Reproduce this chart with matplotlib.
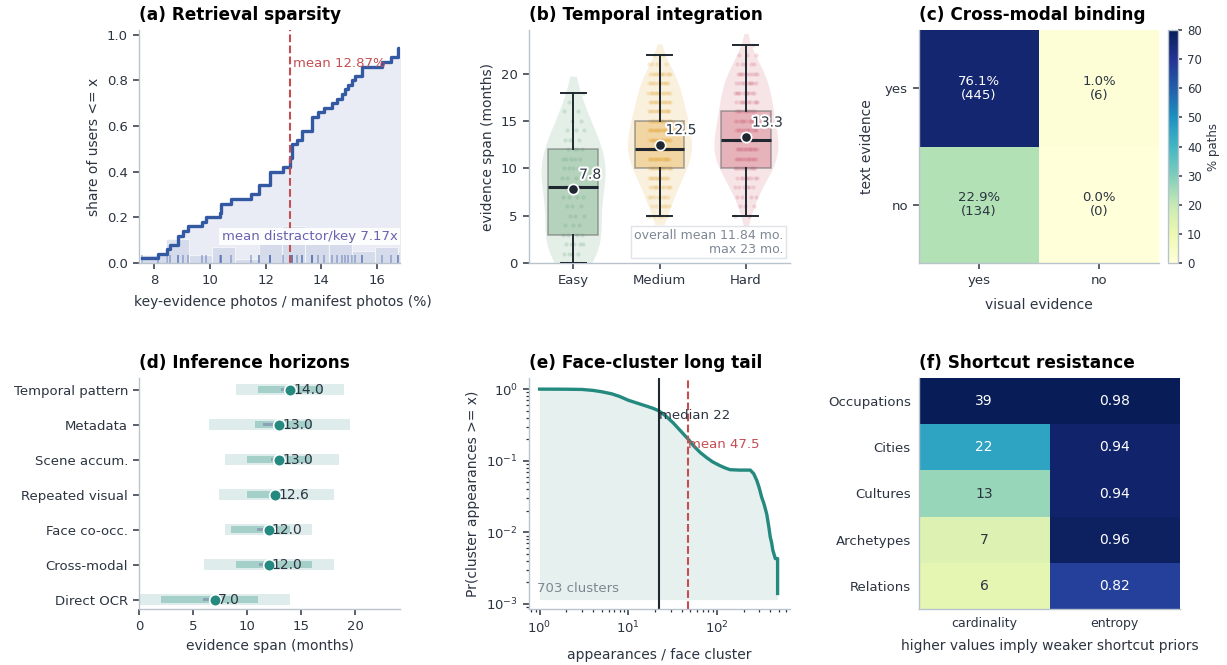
import numpy as np
import matplotlib
matplotlib.use("Agg")
import matplotlib.pyplot as plt
import matplotlib.patheffects as pe
from matplotlib.ticker import LogLocator, NullFormatter

# ---------------- data ----------------
# (a) key-evidence photos as % of manifest photos, one value per user
key_share = [7.58, 8.13, 8.48, 8.57, 8.87, 8.87, 9.05, 9.23, 9.71, 9.85,
             10.35, 10.40, 10.40, 10.75, 11.48, 11.76, 11.76, 12.16, 12.16, 12.16,
             12.61, 12.87, 12.87, 12.93, 12.93, 12.93, 13.11, 13.29, 13.29,
             13.65, 13.65, 13.65, 13.87, 14.09, 14.37, 14.55, 14.73, 14.85, 14.96,
             15.09, 15.20, 15.44, 15.44, 16.16, 16.49, 16.76, 16.76, 17.1, 17.3, 17.6]
key_share_mean = 12.87
distractor_ratio = 7.17

# (b) evidence span by difficulty: months -> number of paths
levels = ["Easy", "Medium", "Hard"]
easy_counts = {0: 4, 1: 4, 2: 5, 3: 4, 4: 3, 5: 3, 6: 3, 7: 4, 8: 4, 9: 4, 10: 5,
               11: 5, 12: 4, 13: 3, 14: 3, 15: 2, 16: 2, 17: 1, 18: 1}
medium_counts = {5: 6, 6: 6, 7: 8, 8: 10, 9: 12, 10: 16, 11: 18, 12: 20, 13: 18,
                 14: 17, 15: 16, 16: 15, 17: 13, 18: 12, 19: 11, 20: 11, 21: 4, 22: 2}
hard_counts = {5: 2, 6: 3, 7: 4, 8: 6, 9: 8, 10: 12, 11: 13, 12: 14, 13: 13, 14: 12,
               15: 11, 16: 11, 17: 10, 18: 10, 19: 9, 20: 9, 21: 5, 22: 3, 23: 1}
span_q1 = [3, 10, 10]
span_median = [8, 12, 13]
span_q3 = [12, 15, 16]
span_low = [0, 5, 5]
span_high = [18, 22, 23]
span_mean = [7.8, 12.5, 13.3]
overall_mean = 11.84
overall_max = 23

# (c) cross-modal binding
modal_labels = ["yes", "no"]
binding_pct = [[76.1, 1.0], [22.9, 0.0]]
binding_n = [[445, 6], [134, 0]]

# (d) inference horizons
horizon_labels = ["Temporal pattern", "Metadata", "Scene accum.", "Repeated visual",
                  "Face co-occ.", "Cross-modal", "Direct OCR"]
outer_lo = [9.0, 6.5, 8.0, 7.4, 8.0, 6.0, 0.0]
outer_hi = [19.0, 19.5, 18.5, 18.0, 16.0, 18.0, 14.0]
inner_lo = [11.0, 10.7, 10.0, 10.0, 8.5, 9.0, 2.0]
inner_hi = [17.0, 16.0, 16.0, 12.6, 14.0, 16.0, 11.0]
ci_lo = [13.1, 11.5, 12.2, 12.0, 10.9, 11.1, 5.9]
ci_hi = [13.9, 12.8, 12.8, 12.6, 12.0, 11.7, 6.8]
horizon_median = [14.0, 13.0, 13.0, 12.6, 12.0, 12.0, 7.0]

# (e) face-cluster appearances, complementary CDF
ccdf_x = [1, 2, 3, 4, 5, 6.5, 8, 10, 13, 16, 19, 22, 26, 32, 38, 47.5, 55, 65, 77, 90,
          109, 125, 141, 180, 238, 260, 282, 300, 320, 340, 365, 385, 400, 415, 428,
          440, 456, 470, 484, 484]
ccdf_y = [1.0, 0.997, 0.99, 0.96, 0.92, 0.86, 0.79, 0.70, 0.63, 0.58, 0.54, 0.50, 0.43,
          0.34, 0.27, 0.20, 0.16, 0.13, 0.11, 0.096, 0.085, 0.079, 0.075, 0.074, 0.074,
          0.066, 0.053, 0.042, 0.031, 0.025, 0.018, 0.012, 0.0086, 0.0071, 0.0056,
          0.0050, 0.0043, 0.0043, 0.0043, 0.0014]
n_clusters = 703
cluster_median = 22
cluster_mean = 47.5

# (f) shortcut resistance
shortcut_rows = ["Occupations", "Cities", "Cultures", "Archetypes", "Relations"]
shortcut_cols = ["cardinality", "entropy"]
cardinality = [39, 22, 13, 7, 6]
entropy = [0.98, 0.94, 0.94, 0.96, 0.82]

# ---------------- style ----------------
DARK = "#2b3440"
SPINE = "#b9c3ce"
RED = "#c44e52"
BLUE = "#3459a3"
TEAL = "#24897e"
level_colors = ["#5b9e6e", "#e3a534", "#c9596b"]

plt.rcParams.update({
    "font.family": "DejaVu Sans",
    "font.size": 9.5,
    "text.color": DARK,
    "axes.labelcolor": DARK,
    "axes.labelsize": 10,
    "xtick.color": DARK,
    "ytick.color": DARK,
    "xtick.labelsize": 9.5,
    "ytick.labelsize": 9.5,
    "xtick.major.size": 4.5,
    "ytick.major.size": 4.5,
    "xtick.major.width": 1.1,
    "ytick.major.width": 1.1,
    "axes.edgecolor": SPINE,
    "axes.linewidth": 1.0,
})

fig = plt.figure(figsize=(12.27, 6.65), dpi=100)
W, H = 1227, 665


def box(x0, y0, x1, y1):
    return [x0 / W, 1 - y1 / H, (x1 - x0) / W, (y1 - y0) / H]


def despine(ax):
    ax.spines["top"].set_visible(False)
    ax.spines["right"].set_visible(False)


def title(ax, s):
    ax.set_title(s, loc="left", fontsize=12.2, fontweight="bold", color="black", pad=7)


# ---------------- (a) ----------------
ax = fig.add_axes(box(139, 30, 400, 263))
vals = np.sort(np.array(key_share))
ecdf = np.arange(1, len(vals) + 1) / len(vals)
ax.fill_between(vals, ecdf, 0, step="post", color="#e9ecf5", lw=0)
counts, edges = np.histogram(vals, bins=12)
ax.bar(edges[:-1], counts / counts.max() * 0.16, width=np.diff(edges), align="edge",
       color="#c9d1e4", alpha=0.6, edgecolor="white", linewidth=0.8)
ax.vlines(vals, 0, 0.035, color=BLUE, alpha=0.45, lw=1.1)
ax.step(vals, ecdf, where="post", color=BLUE, lw=2.4)
ax.axvline(key_share_mean, color=RED, ls="--", lw=1.5)
ax.text(key_share_mean + 0.12, 0.875, f"mean {key_share_mean:.2f}%", color=RED, fontsize=9.5,
        va="center")
ax.text(0.99, 0.115, f"mean distractor/key {distractor_ratio:.2f}x", transform=ax.transAxes,
        ha="right", va="center", color="#6a62b0", fontsize=9.5,
        bbox=dict(facecolor="white", edgecolor="none", pad=1.5, alpha=0.9))
ax.set_xlim(7.46, 16.82)
ax.set_ylim(0, 1.02)
ax.set_xticks([8, 10, 12, 14, 16])
ax.set_yticks([0, 0.2, 0.4, 0.6, 0.8, 1.0])
ax.set_xlabel("key-evidence photos / manifest photos (%)", labelpad=6)
ax.xaxis.label.set_x(0.552)
ax.set_ylabel("share of users <= x")
despine(ax)
title(ax, "(a) Retrieval sparsity")

# ---------------- (b) ----------------
ax = fig.add_axes(box(529, 30, 790, 263))
groups = [easy_counts, medium_counts, hard_counts]
datasets = []
for g in groups:
    datasets.append(np.repeat(list(g.keys()), list(g.values())).astype(float))
for i, (d, c) in enumerate(zip(datasets, level_colors)):
    # gaussian kde (scott bandwidth), tails cut shortly past the data
    bw = 1.15 * d.std(ddof=1) * len(d) ** (-0.2)
    grid = np.linspace(d.min() - 0.6 * bw, d.max() + 0.7 * bw, 200)
    dens = np.exp(-0.5 * ((grid[:, None] - d[None, :]) / bw) ** 2).sum(axis=1)
    half = dens / dens.max() * 0.37
    ax.fill_betweenx(grid, i - half, i + half, color=c, alpha=0.16, lw=0, zorder=1)
    k = np.arange(len(d))
    jit = ((k * 0.618034) % 1 - 0.5) * 0.26
    ax.scatter(i + jit, d, s=9, color=c, alpha=0.2, lw=0, zorder=2)
stats = []
for i in range(3):
    stats.append(dict(q1=span_q1[i], med=span_median[i], q3=span_q3[i],
                      whislo=span_low[i], whishi=span_high[i], fliers=[]))
bp = ax.bxp(stats, positions=[0, 1, 2], widths=0.57, capwidths=0.29, patch_artist=True,
            showfliers=False, zorder=3,
            whiskerprops=dict(color="#1f2730", lw=1.4),
            capprops=dict(color="#1f2730", lw=1.4),
            medianprops=dict(color="#1f2730", lw=2.2))
for patch, c in zip(bp["boxes"], level_colors):
    patch.set_facecolor(matplotlib.colors.to_rgba(c, 0.35))
    patch.set_edgecolor((0.45, 0.45, 0.45, 0.6))
    patch.set_linewidth(1.2)
ax.scatter([0, 1, 2], span_mean, s=55, color="#1f2730", edgecolor="white", lw=1.2, zorder=5)
for i, m in enumerate(span_mean):
    ax.text(i + 0.07, m + 1.1, f"{m:.1f}", fontsize=10, color=DARK, zorder=6,
            path_effects=[pe.withStroke(linewidth=3, foreground="white")])
ax.text(0.975, 0.09, f"overall mean {overall_mean:.2f} mo.\nmax {overall_max} mo.",
        transform=ax.transAxes, ha="right", va="center", color="#7d8794", fontsize=9,
        linespacing=1.1, zorder=7,
        bbox=dict(facecolor="white", edgecolor="#dde2e8", pad=2, alpha=0.9))
ax.set_xticks([0, 1, 2])
ax.set_xticklabels(levels)
ax.set_xlim(-0.51, 2.51)
ax.set_ylim(0, 24.6)
ax.set_yticks([0, 5, 10, 15, 20])
ax.set_ylabel("evidence span (months)")
despine(ax)
title(ax, "(b) Temporal integration")

# ---------------- (c) ----------------
ax = fig.add_axes(box(919, 30, 1159, 263))
cax = fig.add_axes(box(1168, 30, 1178, 263))
pct = np.array(binding_pct)
mesh = ax.pcolormesh(pct, cmap="YlGnBu", vmin=0, vmax=80, lw=0)
for r in range(2):
    for c in range(2):
        ax.text(c + 0.5, r + 0.5, f"{pct[r, c]:.1f}%\n({binding_n[r][c]})", ha="center",
                va="center", fontsize=9.5, linespacing=1.1,
                color="white" if pct[r, c] > 40 else DARK)
ax.set_xlim(0, 2)
ax.set_ylim(2, 0)
ax.set_xticks([0.5, 1.5])
ax.set_xticklabels(modal_labels)
ax.set_yticks([0.5, 1.5])
ax.set_yticklabels(modal_labels)
ax.set_xlabel("visual evidence", labelpad=8)
ax.set_ylabel("text evidence", labelpad=8)
despine(ax)
cb = fig.colorbar(mesh, cax=cax)
cb.set_ticks(range(0, 81, 10))
cb.ax.tick_params(labelsize=8.5, length=3)
cb.set_label("% paths", fontsize=8.5)
cb.outline.set_edgecolor(SPINE)
title(ax, "(c) Cross-modal binding")

# ---------------- (d) ----------------
ax = fig.add_axes(box(139, 378, 400, 609))
y = np.arange(len(horizon_labels))
lo, hi = np.array(outer_lo), np.array(outer_hi)
ax.barh(y, hi - lo, left=lo, height=0.33, color="#deeceb", lw=0)
lo, hi = np.array(inner_lo), np.array(inner_hi)
ax.barh(y, hi - lo, left=lo, height=0.19, color="#a5cfc9", lw=0)
lo, hi = np.array(ci_lo), np.array(ci_hi)
ax.barh(y, hi - lo, left=lo, height=0.08, color="#8697b0", alpha=0.8, lw=0)
ax.scatter(horizon_median, y, s=70, color=TEAL, edgecolor="white", lw=1.2, zorder=4)
for yi, m in zip(y, horizon_median):
    ax.text(m + 0.3, yi, f"{m:.1f}", va="center", fontsize=10, color=DARK, zorder=5)
ax.set_yticks(y)
ax.set_yticklabels(horizon_labels)
ax.set_ylim(6.27, -0.33)
ax.set_xlim(0, 24.15)
ax.set_xticks([0, 5, 10, 15, 20])
ax.set_xlabel("evidence span (months)")
despine(ax)
title(ax, "(d) Inference horizons")

# ---------------- (e) ----------------
ax = fig.add_axes(box(529, 378, 790, 609))
ax.set_xscale("log")
ax.set_yscale("log")
ax.fill_between(ccdf_x, ccdf_y, 1.15e-3, color="#e6f0ee", lw=0)
ax.plot(ccdf_x, ccdf_y, color=TEAL, lw=2.4)
ax.axvline(cluster_median, color="#1f2730", lw=1.5)
ax.axvline(cluster_mean, color=RED, ls="--", lw=1.5)
ax.text(cluster_median, 0.43, f"median {cluster_median}", fontsize=9.5, color=DARK, va="center")
ax.text(cluster_mean, 0.17, f"mean {cluster_mean}", fontsize=9.5, color=RED, va="center")
ax.text(0.03, 0.09, f"{n_clusters} clusters", transform=ax.transAxes, fontsize=9.5,
        color="#7d8794", va="center")
ax.set_xlim(0.76, 668)
ax.set_ylim(8.5e-4, 1.43)
ax.xaxis.set_major_locator(LogLocator(base=10, numticks=10))
ax.yaxis.set_major_locator(LogLocator(base=10, numticks=10))
ax.xaxis.set_minor_locator(LogLocator(base=10, subs=np.arange(2, 10), numticks=20))
ax.yaxis.set_minor_locator(LogLocator(base=10, subs=np.arange(2, 10), numticks=20))
ax.xaxis.set_minor_formatter(NullFormatter())
ax.yaxis.set_minor_formatter(NullFormatter())
ax.tick_params(which="minor", length=2.5, width=0.9, color=DARK)
ax.set_xlabel("appearances / face cluster", labelpad=8)
ax.set_ylabel("Pr(cluster appearances >= x)")
despine(ax)
title(ax, "(e) Face-cluster long tail")

# ---------------- (f) ----------------
ax = fig.add_axes(box(919, 378, 1180, 609))
raw = np.column_stack([cardinality, entropy]).astype(float)
norm = raw / raw.max(axis=0)
ax.pcolormesh(norm, cmap="YlGnBu", vmin=0, vmax=1, lw=0)
for r in range(len(shortcut_rows)):
    for c in range(2):
        s = f"{int(raw[r, c])}" if c == 0 else f"{raw[r, c]:.2f}"
        ax.text(c + 0.5, r + 0.5, s, ha="center", va="center", fontsize=10,
                color="white" if norm[r, c] > 0.5 else DARK)
ax.set_xlim(0, 2)
ax.set_ylim(len(shortcut_rows), 0)
ax.set_xticks([0.5, 1.5])
ax.set_xticklabels(shortcut_cols, fontsize=9)
ax.set_yticks(np.arange(len(shortcut_rows)) + 0.5)
ax.set_yticklabels(shortcut_rows)
ax.tick_params(length=0, pad=6)
ax.set_xlabel("higher values imply weaker shortcut priors", labelpad=6)
despine(ax)
title(ax, "(f) Shortcut resistance")

fig.savefig("out.png", dpi=100, facecolor="white")
